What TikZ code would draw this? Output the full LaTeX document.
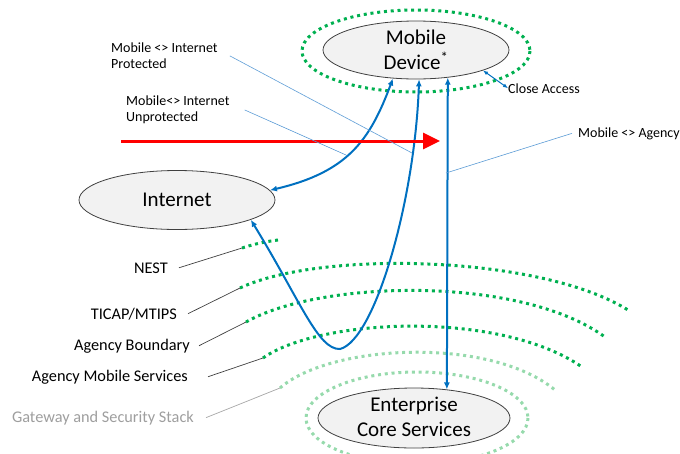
\documentclass[tikz,border=0pt]{standalone}
\usepackage{fontspec}
\setmainfont{Carlito}
\usetikzlibrary{shapes.geometric,arrows.meta}
\definecolor{msblue}{RGB}{0,112,192}
\definecolor{leadblue}{RGB}{91,155,213}
\definecolor{dkgreen}{RGB}{0,176,80}
\definecolor{ltgreen}{RGB}{150,218,172}
\definecolor{blobfill}{RGB}{242,242,242}
\definecolor{blobline}{RGB}{64,64,64}

\begin{document}
\begin{tikzpicture}[x=1pt,y=-1pt,>=Latex]
\tikzstyle{blob}=[ellipse,draw=blobline,fill=blobfill,line width=0.8pt,inner sep=0pt]
\tikzstyle{big}=[font=\fontsize{21}{25}\selectfont,align=center,inner sep=0pt]
\tikzstyle{lbl}=[font=\fontsize{16.3}{19}\selectfont,anchor=base east,inner sep=0pt]
\tikzstyle{tag}=[font=\fontsize{14}{15.5}\selectfont,align=left,inner sep=0pt]
\tikzstyle{ring}=[draw=dkgreen,line width=3pt,dash pattern=on 3pt off 3.8pt]
\tikzstyle{pale}=[draw=ltgreen,line width=3pt,dash pattern=on 3pt off 3.8pt]
\tikzstyle{lnk}=[draw=msblue,line width=2pt,{Latex[length=7pt,width=6pt]}-{Latex[length=7pt,width=6pt]}]
\tikzstyle{lead}=[draw=leadblue,line width=0.6pt]
\tikzstyle{blk}=[draw=blobline,line width=0.7pt]
\useasboundingbox (0,0) rectangle (680,453);
\clip (0,0) rectangle (680,453);
% boundaries
\coordinate (nestL) at (242,248);
\coordinate (ticapL) at (240,288);
\coordinate (boundL) at (246,322);
\coordinate (amsL) at (263,358);
\coordinate (gateL) at (280,388);
\draw[ring] (416,51) ellipse [x radius=114,y radius=41];
\draw[pale] (417,418) ellipse [x radius=111,y radius=46];
\draw[ring] (nestL) to[bend left=5] (278,240);
\draw[ring] (ticapL) .. controls (320,250) and (540,255) .. (628,310);
\draw[ring] (boundL) .. controls (320,280) and (520,275) .. (605,337);
\draw[ring] (amsL) .. controls (320,318) and (500,310) .. (582,367);
\draw[pale] (gateL) .. controls (330,344) and (490,336) .. (555,390);
% ellipses
\node[blob,minimum width=186pt,minimum height=58pt] (mobile) at (416,50) {};
\node[big] (mobiletxt) at (416,50) {Mobile\\Device\textsuperscript{*}};
\node[blob,font=\fontsize{21}{25}\selectfont,minimum width=196pt,minimum height=59pt] (internet) at (177,200) {Internet};
\node[blob,minimum width=192pt,minimum height=60pt] (enterprise) at (414,418) {};
\node[big] (enttxt) at (414,417) {Enterprise\\Core Services};
% labels on the left
\node[lbl] (nest) at (168,273) {NEST};
\node[lbl] (ticap) at (177,319) {TICAP/MTIPS};
\node[lbl] (bound) at (190,350) {Agency Boundary};
\node[lbl] (ams) at (188,381) {Agency Mobile Services};
\node[lbl,text=black!38] (gate) at (194,422) {Gateway and Security Stack};
\draw[blk] ([xshift=11pt]nest.east) -- (nestL);
\draw[blk] ([xshift=11pt]ticap.east) -- (ticapL);
\draw[blk] ([xshift=9pt]bound.east) -- (boundL);
\draw[blk] ([xshift=20pt]ams.east) -- (amsL);
\draw[blk,draw=black!35] ([xshift=12pt]gate.east) -- (gateL);
% top labels
\node[tag,anchor=north west] (prot) at (111,43) {Mobile <> Internet\\Protected};
\node[tag,anchor=north west] (unprot) at (126,96) {Mobile<> Internet\\Unprotected};
\node[tag,anchor=base west] (close) at (508,93) {Close Access};
\node[tag,anchor=base west] (agency) at (578,137) {Mobile <> Agency};
% links
\coordinate (dip) at (340,349);
\draw[lnk] (mobile.-129) .. controls (370,140) and (348,172) .. (internet.6);
\draw[lnk] (internet.-15) .. controls (300,300) and (318,350) .. (dip)
  .. controls (375,340) and (415,200) .. (mobile.-84);
\draw[lnk] (mobile.-41) -- (enterprise.41);
\draw[lnk,line width=1pt,{Latex[length=5pt,width=4pt]}-{Latex[length=5pt,width=4pt]}] (mobile.-17) -- (close.west);
% red arrow
\coordinate (redL) at (121,141);
\coordinate (redR) at (440,141);
\draw[red,line width=3pt,-{Triangle[length=17pt,width=16pt]}] (redL) -- (redR);
% leaders
\coordinate (protE) at (412,153);
\coordinate (unprotE) at (346,155);
\coordinate (agencyE) at (446,173);
\draw[lead] ([xshift=12pt]prot.east) -- (protE);
\draw[lead] ([xshift=15pt]unprot.east) -- (unprotE);
\draw[lead] ([xshift=-6pt]agency.west) -- (agencyE);
\end{tikzpicture}
\end{document}
